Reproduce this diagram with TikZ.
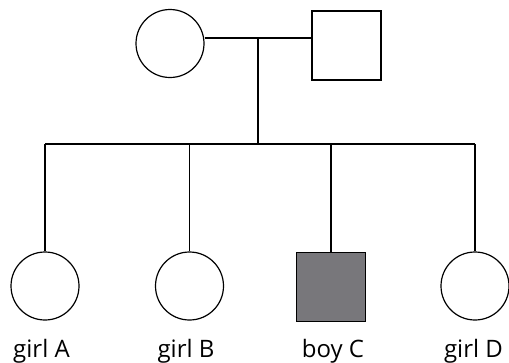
\documentclass[tikz,border=0pt]{standalone}
\usepackage{fontspec}
\setmainfont{Open Sans}
\usetikzlibrary{calc}
\definecolor{affectedgrey}{RGB}{120, 119, 123}

\begin{document}
\begin{tikzpicture}[x=1pt, y=-1pt]
				\useasboundingbox (0,0) rectangle (509,362);
				\begin{scope}[every node/.style={draw, line width=1.2pt, inner sep=0}, female/.style={circle, minimum size=68pt}, male/.style={rectangle, minimum size=69pt}, label/.style={draw=none, anchor=base, font=\fontsize{24}{26}\selectfont}]
				% parents
				\node[female] (mum) at (170,43.5) {};
				\node[male] (dad) at (346.5,45.5) {};
				\coordinate (mate) at (258,38);
				\coordinate (sib) at (258,144);
				
				% children
				\node[female] (girlA) at (45,286) {};
				\node[female] (girlB) at (189.5,286) {};
				\node[male, fill=affectedgrey] (boyC) at (331,287) {};
				\node[female] (girlD) at (475,286) {};
				
				\node[label] (labA) at (41.5,357) {girl A};
				\node[label] (labB) at (186,357) {girl B};
				\node[label] (labC) at (333,357) {boy C};
				\node[label] (labD) at (473.5,357) {girl D};
				
				\draw[-, line width=1.2pt] (mum.east |- mate) -- (dad.west |- mate);
				\draw[-, line width=1.2pt] (mate) -- (sib);
				\draw[-, line width=1.2pt] (girlA |- sib) -- (girlD |- sib);
				\draw[-, line width=1.2pt] (girlA |- sib) -- (girlA);
				\draw[-, line width=1.2pt] (girlB |- sib) -- (girlB);
				\draw[-, line width=1.2pt] (boyC |- sib) -- (boyC);
				\draw[-, line width=1.2pt] (girlD |- sib) -- (girlD);
				\end{scope}
				\end{tikzpicture}
\end{document}
